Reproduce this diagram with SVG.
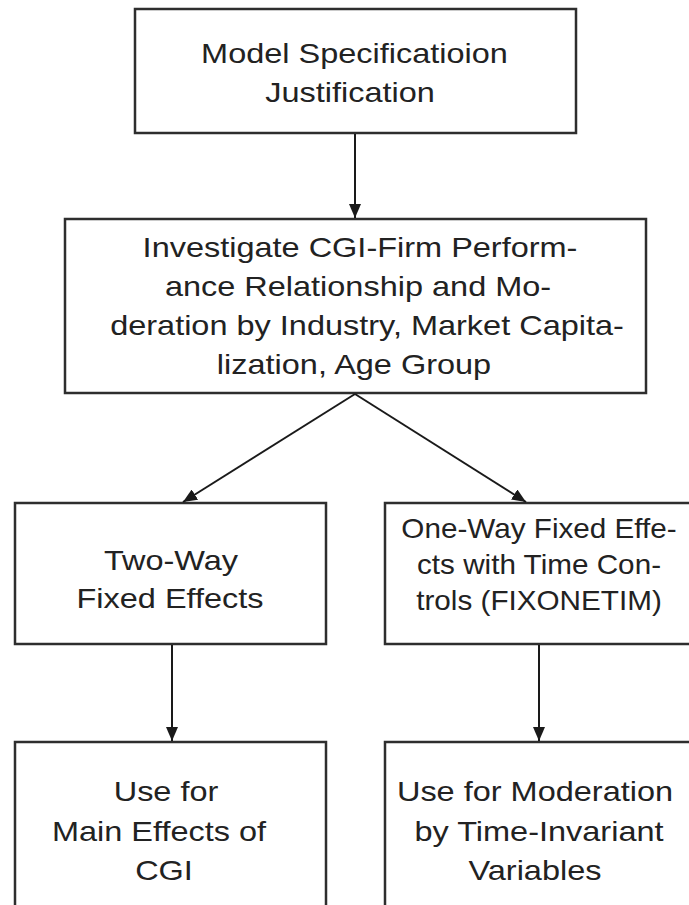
<svg xmlns="http://www.w3.org/2000/svg" width="689" height="905" viewBox="0 0 689 905">
<defs>
<marker id="ah" viewBox="0 0 14 12" refX="14" refY="6" markerWidth="14" markerHeight="12" markerUnits="userSpaceOnUse" orient="auto">
<path d="M0,0 L14,6 L0,12 z" fill="#1a1a1a"/>
</marker>
</defs>
<style>
.box{fill:#fff;stroke:#2e2e2e;stroke-width:2.5}
.t{font-family:"Liberation Sans",Arial,sans-serif;font-size:28px;fill:#222;text-anchor:middle}
.c{stroke:#1a1a1a;stroke-width:2;fill:none}
</style>
<rect width="689" height="905" fill="#fff"/>
<g id="n1">
<rect class="box" x="135" y="9" width="441" height="124"/>
<text class="t" transform="translate(354.5,63) scale(1.16,1)">Model Specificatioion</text>
<text class="t" transform="translate(350,102) scale(1.16,1)">Justification</text>
</g>
<g id="n2">
<rect class="box" x="65" y="219" width="581" height="174"/>
<text class="t" transform="translate(360,257) scale(1.16,1)">Investigate CGI-Firm Perform-</text>
<text class="t" transform="translate(358,296) scale(1.16,1)">ance Relationship and Mo-</text>
<text class="t" transform="translate(367,335) scale(1.16,1)">deration by Industry, Market Capita-</text>
<text class="t" transform="translate(354,374) scale(1.16,1)">lization, Age Group</text>
</g>
<g id="n3">
<rect class="box" x="15" y="503" width="311" height="141"/>
<text class="t" transform="translate(171,570) scale(1.16,1)">Two-Way</text>
<text class="t" transform="translate(170,608) scale(1.16,1)">Fixed Effects</text>
</g>
<g id="n4">
<rect class="box" x="385" y="503" width="310" height="141"/>
<text class="t" transform="translate(539,538) scale(1.06,1)">One-Way Fixed Effe-</text>
<text class="t" transform="translate(539,574) scale(1.06,1)">cts with Time Con-</text>
<text class="t" transform="translate(539,610) scale(1.06,1)">trols (FIXONETIM)</text>
</g>
<g id="n5">
<rect class="box" x="15" y="742" width="311" height="180"/>
<text class="t" transform="translate(166,801) scale(1.16,1)">Use for</text>
<text class="t" transform="translate(159,841) scale(1.16,1)">Main Effects of</text>
<text class="t" transform="translate(164,880) scale(1.16,1)">CGI</text>
</g>
<g id="n6">
<rect class="box" x="385" y="742" width="310" height="180"/>
<text class="t" transform="translate(535,801) scale(1.16,1)">Use for Moderation</text>
<text class="t" transform="translate(539,841) scale(1.16,1)">by Time-Invariant</text>
<text class="t" transform="translate(535,880) scale(1.16,1)">Variables</text>
</g>
<g id="connectors">
<line class="c" x1="355" y1="134" x2="355" y2="218" marker-end="url(#ah)"/>
<line class="c" x1="355" y1="394" x2="183" y2="502" marker-end="url(#ah)"/>
<line class="c" x1="355" y1="394" x2="526" y2="502" marker-end="url(#ah)"/>
<line class="c" x1="172" y1="645" x2="172" y2="741" marker-end="url(#ah)"/>
<line class="c" x1="539" y1="645" x2="539" y2="741" marker-end="url(#ah)"/>
</g>
</svg>
